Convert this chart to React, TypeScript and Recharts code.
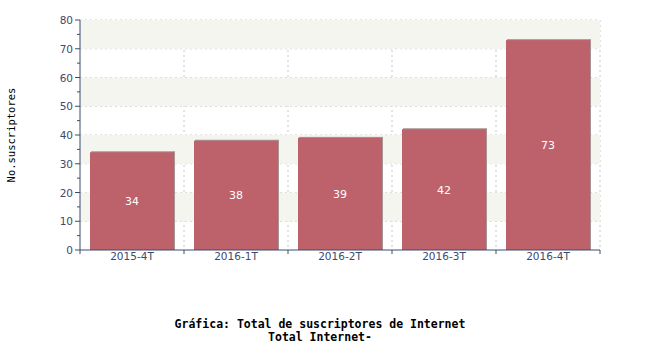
import { BarChart, Bar, XAxis, YAxis, CartesianGrid, LabelList, ReferenceArea } from 'recharts'

const periodos = ['2015-4T', '2016-1T', '2016-2T', '2016-3T', '2016-4T']
const suscriptores = [34, 38, 39, 42, 73]
const yTicks = [0, 5, 10, 15, 20, 25, 30, 35, 40, 45, 50, 55, 60, 65, 70, 75, 80]
const bandas = [[10, 20], [30, 40], [50, 60], [70, 80]]

const data = periodos.map((p, i) => ({ periodo: p, valor: suscriptores[i] }))

const axisColor = '#3d4a6e'
const tickFont = '"DejaVu Sans", sans-serif'

function XTick(props: any) {
  const { x, y, index } = props
  const half = 52
  const axisY = y - 8
  return (
    <g>
      <line x1={x - half} y1={axisY} x2={x - half} y2={axisY + 4} stroke={axisColor} />
      {index === periodos.length - 1 && (
        <line x1={x + half} y1={axisY} x2={x + half} y2={axisY + 4} stroke={axisColor} />
      )}
      <text x={x} y={axisY + 10} textAnchor="middle" fill={axisColor} fontSize={10.5} fontFamily={tickFont}>
        {props.payload.value}
      </text>
    </g>
  )
}

function YTick(props: any) {
  const { x, y, payload } = props
  const axisX = x + 8
  const major = payload.value % 10 === 0
  return (
    <g>
      <line x1={axisX - (major ? 5 : 3)} y1={y} x2={axisX} y2={y} stroke={axisColor} />
      {major && (
        <text x={axisX - 7} y={y + 4} textAnchor="end" fill={axisColor} fontSize={10.5} fontFamily={tickFont}>
          {payload.value}
        </text>
      )}
    </g>
  )
}

function BarShape(props: any) {
  const { x, y, width, height } = props
  return (
    <g>
      <rect x={x + 1} y={y - 1} width={width} height={height + 1} fill="#a89494" />
      <rect x={x} y={y} width={width} height={height} fill="#bd616b" />
    </g>
  )
}

export default function App() {
  return (
    <div style={{ position: 'absolute', left: 0, top: 0, width: 650, height: 350, background: '#fff' }}>
      <BarChart
        width={650}
        height={350}
        data={data}
        margin={{ top: 20, right: 50, bottom: 80, left: 40 }}
      >
        {bandas.map(([a, b]) => (
          <ReferenceArea key={a} y1={a} y2={b} fill="#f5f5f0" fillOpacity={1} stroke="none" ifOverflow="visible" />
        ))}
        <CartesianGrid
          stroke="#c8c8c8"
          strokeDasharray="2 3"
          horizontalValues={[10, 20, 30, 40, 50, 60, 70, 80]}
          verticalCoordinatesGenerator={({ offset }: any) =>
            [1, 2, 3, 4, 5].map(i => offset.left + (i * offset.width) / periodos.length)
          }
        />
        <XAxis
          dataKey="periodo"
          height={20}
          stroke={axisColor}
          tickLine={false}
          tick={<XTick />}
          interval={0}
        />
        <YAxis
          width={40}
          domain={[0, 80]}
          ticks={yTicks}
          interval={0}
          stroke={axisColor}
          tickLine={false}
          tick={<YTick />}
        />
        <Bar dataKey="valor" barSize={84} shape={<BarShape />} isAnimationActive={false}>
          <LabelList dataKey="valor" position="center" fill="#ffffff" fontSize={11} fontFamily={tickFont} />
        </Bar>
      </BarChart>
      <div
        style={{
          position: 'absolute',
          left: 3,
          top: 135,
          transform: 'translate(-50%, -50%) rotate(-90deg)',
          marginLeft: 8,
          fontFamily: '"DejaVu Sans Mono", monospace',
          fontSize: 10.5,
          whiteSpace: 'nowrap',
          color: '#000',
        }}
      >
        No.suscriptores
      </div>
      <div
        style={{
          position: 'absolute',
          left: 0,
          top: 318,
          width: 640,
          textAlign: 'center',
          fontFamily: '"DejaVu Sans Mono", monospace',
          fontWeight: 'bold',
          fontSize: 11.5,
          lineHeight: '13px',
          color: '#000',
        }}
      >
        <div>Gráfica: Total de suscriptores de Internet</div>
        <div>Total Internet-</div>
      </div>
    </div>
  )
}
